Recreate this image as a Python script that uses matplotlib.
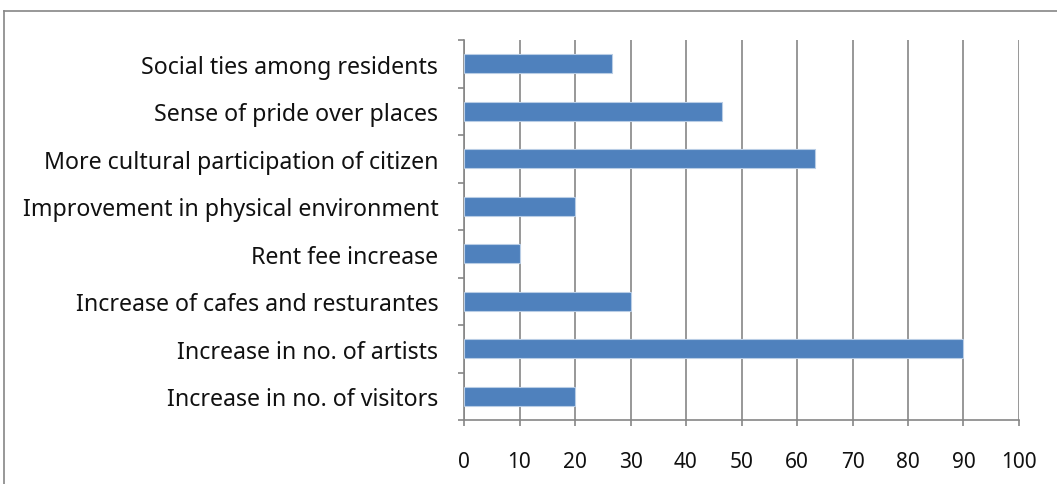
import matplotlib
matplotlib.use('Agg')
import matplotlib.pyplot as plt
from matplotlib.lines import Line2D

categories = [
    'Increase in no. of visitors',
    'Increase in no. of artists',
    'Increase of cafes and resturantes',
    'Rent fee increase',
    'Improvement in physical environment',
    'More cultural participation of citizen',
    'Sense of pride over places',
    'Social ties among residents',
]
values = [20, 90, 30, 10, 20, 63.2, 46.5, 26.6]
x_ticks = list(range(0, 101, 10))

plt.rcParams['font.family'] = ['Noto Sans', 'DejaVu Sans']

fig = plt.figure(figsize=(10.57, 4.85), dpi=100)
ax = fig.add_axes([464 / 1057, 1 - 421 / 485, (1019 - 464) / 1057, (421 - 41) / 485])

pos = list(range(len(categories)))
ax.barh(pos, values, height=0.4, color='#4F81BD', edgecolor='#B9CDE5',
        linewidth=0.8, zorder=3)

ax.set_xlim(0, 100)
ax.set_ylim(-0.5, len(categories) - 0.5)
ax.set_xticks(x_ticks)
ax.set_yticks(pos)
ax.set_yticklabels(categories)
ax.set_yticks([p - 0.5 for p in pos] + [len(categories) - 0.5], minor=True)
ax.tick_params(axis='y', which='major', length=0, pad=18.5, labelsize=16.7, labelcolor='#111111')
ax.tick_params(axis='y', which='minor', length=4, width=1.2, color='#868686')
ax.tick_params(axis='x', length=4.5, width=1.2, color='#868686', pad=17.5, labelsize=15,
               labelcolor='#111111')

ax.grid(axis='x', color='#868686', linewidth=1.2, zorder=0)
for s in ['top', 'right']:
    ax.spines[s].set_visible(False)
for s in ['left', 'bottom']:
    ax.spines[s].set_color('#868686')
    ax.spines[s].set_linewidth(1.2)

# outer chart border (left and top visible)
fig.add_artist(Line2D([4 / 1057, 4 / 1057], [0, 1 - 12 / 485], color='#868686',
                      linewidth=1.2, transform=fig.transFigure))
fig.add_artist(Line2D([4 / 1057, 1], [1 - 12 / 485, 1 - 12 / 485], color='#868686',
                      linewidth=1.2, transform=fig.transFigure))

fig.savefig('out.png', dpi=100)
